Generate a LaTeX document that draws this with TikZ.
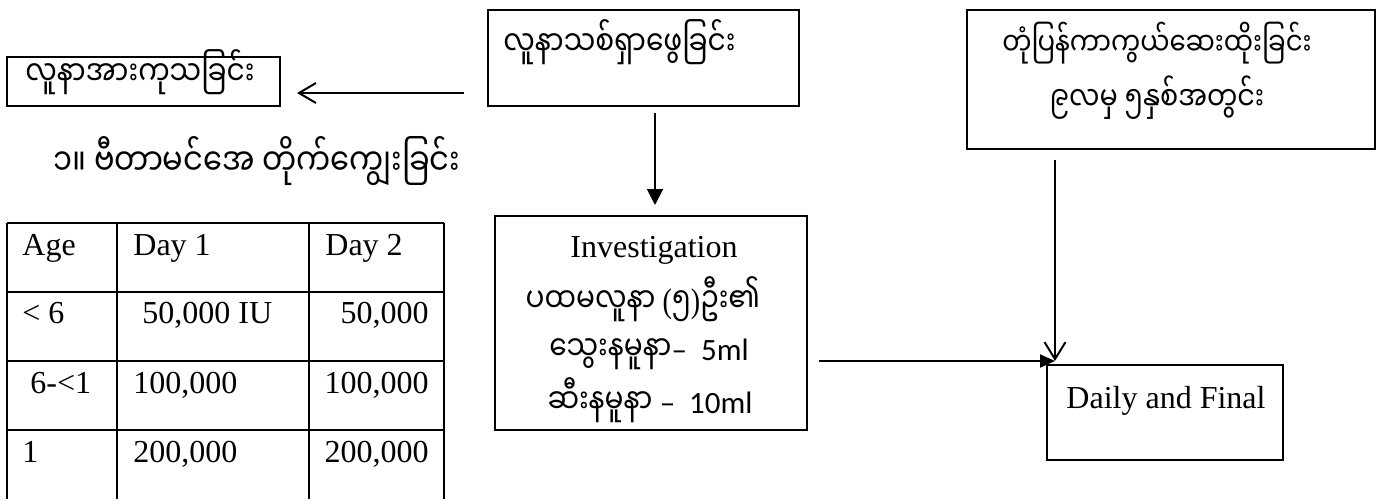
\documentclass[tikz,border=0pt]{standalone}
\usepackage{graphicx}
\usepackage{fontspec}
\setmainfont{Liberation Serif}
\newfontfamily\mm[Script=Myanmar]{Noto Sans Myanmar UI}
\newfontfamily\lat{Carlito}
\newfontfamily\ser{Liberation Serif}
\newcommand\tallmm[1]{\scalebox{1}[1.22]{#1}}
\usetikzlibrary{arrows.meta,calc}
\begin{document}
\begin{tikzpicture}[x=0.5pt,y=-0.5pt,
  box/.style={draw, line width=1pt, rectangle, inner sep=0pt},
  mmt/.style={font=\mm\fontsize{14}{17}\selectfont, inner sep=0pt},
  mmhead/.style={font=\mm\fontsize{15.2}{18}\selectfont, inner sep=0pt},
  rmt/.style={font=\fontsize{16}{19}\selectfont, inner sep=0pt},
  conn/.style={line width=1pt},
  openhead/.style={conn, -{Straight Barb[length=8.5pt,width=10pt,line width=1pt]}},
  filledhead/.style={conn, -{Triangle[length=8pt,width=8pt]}},
  tline/.style={line width=1pt}]
\useasboundingbox (0,0) rectangle (1386,499);

% boxes
\node[box, minimum width=136.5pt, minimum height=24.5pt] (A) at (143.5,81.5) {};
\node[box, minimum width=155.5pt, minimum height=48pt] (B) at (643.5,58) {};
\node[box, minimum width=156pt, minimum height=107pt] (C) at (651,323) {};
\node[box, minimum width=118pt, minimum height=47.5pt] (D) at (1165,412.5) {};
\node[box, minimum width=204pt, minimum height=69.5pt] (E) at (1171,79.5) {};

% box texts
\node[mmt, anchor=base west] (At) at (25,85) {\tallmm{လူနာအားကုသခြင်း}};
\node[mmt, anchor=base west] (Bt) at (503,55) {\tallmm{လူနာသစ်ရှာဖွေခြင်း}};
\node[rmt, anchor=base] (C1) at (654,257) {Investigation};
\node[mmt, anchor=base] (C2) at (643,312) {\tallmm{ပထမလူနာ {\ser(}၅{\ser)}ဦး၏}};
\node[mmt, anchor=base] (C3) at (649,360) {\tallmm{သွေးနမူနာ}{\lat\fontsize{15.5}{18}\selectfont –\ \ 5ml}};
\node[mmt, anchor=base] (C4) at (650,413) {\tallmm{ဆီးနမူနာ} {\lat\fontsize{15.5}{18}\selectfont –\ \ 10ml}};
\node[rmt, anchor=base] (Dt) at (1166,408) {Daily and Final};
\node[mmt, font=\mm\fontsize{13}{16}\selectfont, anchor=base] (E1) at (1157,55) {\tallmm{တုံပြန်ကာကွယ်ဆေးထိုးခြင်း}};
\node[mmt, font=\mm\fontsize{13.5}{16}\selectfont, anchor=base] (E2) at (1157,110) {\tallmm{၉လမှ ၅နှစ်အတွင်း}};

% heading
\node[mmhead, anchor=base west] (H) at (53,175) {\tallmm{၁။ ဗီတာမင်အေ တိုက်ကျွေးခြင်း}};

% connectors
\draw[openhead] ([shift={(-23,-14)}]B.south west) -- ([shift={(16,-14)}]A.south east);
\draw[filledhead] ([shift={(11.5,6)}]B.south) -- ([shift={(4,-10)}]C.north);
\coordinate (Dtip) at ([shift={(9,-3)}]D.north west);
\draw[conn, -{Triangle[length=7.5pt,width=6.5pt]}] ([shift={(11,0)}]C.east |- Dtip) -- (Dtip);
\draw[conn, -{Straight Barb[length=8.5pt,width=10.5pt,line width=1pt]}] ($(E.south -| Dtip)+(0,10)$) -- (Dtip);

% table
\draw[tline] (7,223) -- (444,223);
\draw[tline] (7,292) -- (444,292);
\draw[tline] (7,361) -- (444,361);
\draw[tline] (7,430) -- (444,430);
\foreach \xx in {7,117,309,444} \draw[tline] (\xx,222.5) -- (\xx,499);

\node[rmt, anchor=base west] (t11) at (22,255) {Age};
\node[rmt, anchor=base west] (t12) at (133,255) {Day 1};
\node[rmt, anchor=base west] (t13) at (325,255) {Day 2};
\node[rmt, anchor=base west] (t21) at (22,323) {< 6};
\node[rmt, anchor=base west] (t22) at (142,323) {50,000 IU};
\node[rmt, anchor=base east] (t23) at (429,323) {50,000};
\node[rmt, anchor=base west] (t31) at (30,393) {6-<1};
\node[rmt, anchor=base west] (t32) at (133,393) {100,000};
\node[rmt, anchor=base east] (t33) at (429,393) {100,000};
\node[rmt, anchor=base west] (t41) at (22,462) {1};
\node[rmt, anchor=base west] (t42) at (133,462) {200,000};
\node[rmt, anchor=base east] (t43) at (429,462) {200,000};
\end{tikzpicture}
\end{document}
